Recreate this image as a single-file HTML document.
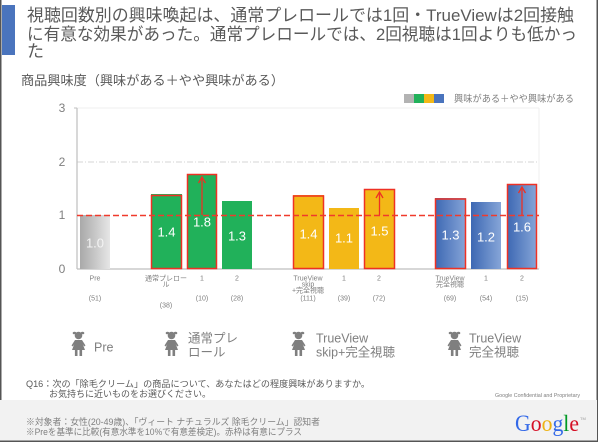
<!DOCTYPE html>
<html><head><meta charset="utf-8"><style>
html,body{margin:0;padding:0;background:#fff;}
body{position:relative;width:600px;height:443px;overflow:hidden;}
svg{display:block;position:absolute;left:0;top:0;}
text{font-family:"Liberation Sans","Noto Sans CJK JP",sans-serif;}
.t3{position:absolute;left:27px;top:42px;font-family:"Liberation Sans","Noto Sans CJK JP",sans-serif;font-size:17px;line-height:20px;color:#595959;z-index:2;}
</style></head><body>
<svg width="600" height="443" viewBox="0 0 600 443" xmlns="http://www.w3.org/2000/svg">
<defs>
<linearGradient id="gg" x1="0" x2="1" y1="0" y2="0"><stop offset="0" stop-color="#a9a9a9"/><stop offset="1" stop-color="#e6e6e6"/></linearGradient>
<linearGradient id="bg" x1="0" x2="1" y1="0" y2="0"><stop offset="0" stop-color="#3d68b3"/><stop offset="1" stop-color="#86a5d8"/></linearGradient>
<g id="girl" fill="#7f7f7f">
<circle cx="0" cy="5.5" r="3.8"/>
<ellipse cx="-4" cy="3" rx="1.8" ry="1.3"/>
<ellipse cx="4" cy="3" rx="1.8" ry="1.3"/>
<polygon points="-3.5,10 3.5,10 7,15.5 5.6,16.5 4.2,14 6.5,20 -6.5,20 -4.2,14 -5.6,16.5 -7,15.5"/>
<rect x="-3.6" y="19.5" width="2.6" height="6.5"/>
<rect x="1" y="19.5" width="2.6" height="6.5"/>
</g>
</defs>

<!-- frame -->
<rect x="0" y="0" width="1.5" height="442" fill="#555"/>
<rect x="596.5" y="0" width="1.5" height="442" fill="#555"/>
<rect x="0" y="400" width="597" height="41" fill="#f2f2f2"/>
<rect x="0" y="440.5" width="598" height="1.5" fill="#555"/>
<rect x="2" y="5" width="13" height="50" fill="#4a74bd"/>

<!-- title -->
<text x="27" y="21" font-size="17" fill="#595959" textLength="547" lengthAdjust="spacingAndGlyphs">視聴回数別の興味喚起は、通常プレロールでは1回・TrueViewは2回接触</text>
<text x="27" y="40" font-size="17" fill="#595959" textLength="550" lengthAdjust="spacingAndGlyphs">に有意な効果があった。通常プレロールでは、2回視聴は1回よりも低かっ</text>
<text x="21" y="85" font-size="13" fill="#595959" textLength="263" lengthAdjust="spacingAndGlyphs">商品興味度（興味がある＋やや興味がある）</text>

<!-- legend -->
<rect x="404" y="94" width="10" height="9" fill="#b3b3b3"/>
<rect x="414" y="94" width="10" height="9" fill="#21b15a"/>
<rect x="424" y="94" width="10" height="9" fill="#f3b817"/>
<rect x="434" y="94" width="10" height="9" fill="#4a74bd"/>
<text x="454" y="102" font-size="9.5" fill="#7f7f7f" textLength="120" lengthAdjust="spacingAndGlyphs">興味がある＋やや興味がある</text>

<!-- plot frame/grid -->
<line x1="77" y1="108" x2="539" y2="108" stroke="#efefef" stroke-width="1"/>
<line x1="539" y1="108" x2="539" y2="269" stroke="#efefef" stroke-width="1"/>
<line x1="77" y1="162" x2="539" y2="162" stroke="#d4d4d4" stroke-width="1" stroke-dasharray="6,2,1,2"/>
<line x1="77" y1="108" x2="77" y2="269" stroke="#bfbfbf" stroke-width="1.2"/>
<line x1="74" y1="108" x2="77" y2="108" stroke="#bfbfbf"/>
<line x1="77" y1="269" x2="539" y2="269" stroke="#bfbfbf" stroke-width="1.2"/>

<g font-size="12" fill="#7f7f7f" text-anchor="middle">
<text x="62" y="112">3</text>
<text x="62" y="166">2</text>
<text x="62" y="219">1</text>
<text x="62" y="273">0</text>
</g>

<!-- bars -->
<rect x="80" y="215" width="30" height="54" fill="url(#gg)"/>
<rect x="151" y="194" width="31" height="75" fill="#21b15a"/>
<rect x="187" y="174" width="30" height="95" fill="#21b15a"/>
<rect x="222" y="201" width="30" height="68" fill="#21b15a"/>
<rect x="293" y="195" width="31" height="74" fill="#f3b817"/>
<rect x="329" y="208" width="30" height="61" fill="#f3b817"/>
<rect x="364" y="189" width="31" height="80" fill="#f3b817"/>
<rect x="435" y="198" width="31" height="71" fill="url(#bg)"/>
<rect x="471" y="202" width="30" height="67" fill="url(#bg)"/>
<rect x="507" y="184" width="30" height="85" fill="url(#bg)"/>

<!-- red borders -->
<g fill="none" stroke="#ee3124" stroke-width="1.5">
<rect x="151.5" y="195.5" width="30" height="73"/>
<rect x="187.5" y="174.5" width="29" height="94"/>
<rect x="293.5" y="196" width="30" height="72.5"/>
<rect x="364.5" y="189.5" width="30" height="79"/>
<rect x="435.5" y="199" width="30" height="69.5"/>
<rect x="507.5" y="184.5" width="29" height="84"/>
</g>

<!-- dashed baseline 1.0 -->
<line x1="77" y1="215.5" x2="539" y2="215.5" stroke="#f03a2c" stroke-width="1.4" stroke-dasharray="6,3"/>

<!-- arrows -->
<g fill="none" stroke="#ee3124" stroke-width="1.3">
<line x1="202" y1="215" x2="202" y2="177"/><polyline points="198.5,183 202,177 205.5,183"/>
<line x1="379.5" y1="215" x2="379.5" y2="192"/><polyline points="376,198 379.5,192 383,198"/>
<line x1="522" y1="215" x2="522" y2="187"/><polyline points="518.5,193 522,187 525.5,193"/>
</g>

<!-- bar labels -->
<g font-size="13" fill="#ffffff" text-anchor="middle">
<text x="95" y="247.5" fill="#f4f4f4">1.0</text>
<text x="166.5" y="236.5">1.4</text>
<text x="202" y="226.5">1.8</text>
<text x="237" y="240.5">1.3</text>
<text x="308.5" y="238.5">1.4</text>
<text x="344" y="242.5">1.1</text>
<text x="379.5" y="235.5">1.5</text>
<text x="450.5" y="239.5">1.3</text>
<text x="486" y="241.5">1.2</text>
<text x="522" y="231.5">1.6</text>
</g>

<!-- x labels -->
<g font-size="7" fill="#7f7f7f" text-anchor="middle">
<text x="95" y="280.5">Pre</text>
<text x="166" y="280.5">通常プレロー</text>
<text x="166" y="286.5">ル</text>
<text x="202" y="280.5">1</text>
<text x="237" y="280.5">2</text>
<text x="308" y="280.5">TrueView</text>
<text x="308" y="286.5">skip</text>
<text x="308" y="292.5">+完全視聴</text>
<text x="344" y="280.5">1</text>
<text x="379" y="280.5">2</text>
<text x="450" y="280.5">TrueView</text>
<text x="450" y="286.5">完全視聴</text>
<text x="486" y="280.5">1</text>
<text x="522" y="280.5">2</text>
<text x="95" y="300.5">(51)</text>
<text x="166" y="307.5">(38)</text>
<text x="202" y="300.5">(10)</text>
<text x="237" y="300.5">(28)</text>
<text x="308" y="300.5">(111)</text>
<text x="344" y="300.5">(39)</text>
<text x="379" y="300.5">(72)</text>
<text x="450" y="300.5">(69)</text>
<text x="486" y="300.5">(54)</text>
<text x="522" y="300.5">(15)</text>
</g>

<!-- icons -->
<use href="#girl" x="78.5" y="330"/>
<use href="#girl" x="171.5" y="330"/>
<use href="#girl" x="298.5" y="330"/>
<use href="#girl" x="454.5" y="330"/>
<g font-size="12.5" fill="#7f7f7f">
<text x="94" y="351.5">Pre</text>
<text x="188" y="342.5">通常プレ</text>
<text x="188" y="356.5">ロール</text>
<text x="316" y="342.5">TrueView</text>
<text x="316" y="356.5" textLength="79" lengthAdjust="spacingAndGlyphs">skip+完全視聴</text>
<text x="469" y="342.5">TrueView</text>
<text x="469" y="356.5">完全視聴</text>
</g>

<!-- footer -->
<g font-size="9" fill="#595959">
<text x="26" y="387" textLength="344" lengthAdjust="spacingAndGlyphs">Q16：次の「除毛クリーム」の商品について、あなたはどの程度興味がありますか。</text>
<text x="49" y="397">お気持ちに近いものをお選びください。</text>
</g>
<text x="495" y="397" font-size="5.5" fill="#7f7f7f" textLength="85" lengthAdjust="spacingAndGlyphs">Google Confidential and Proprietary</text>
<g font-size="9" fill="#7f7f7f">
<text x="26" y="425" textLength="294" lengthAdjust="spacingAndGlyphs">※対象者：女性(20-49歳)、「ヴィート ナチュラルズ 除毛クリーム」認知者</text>
<text x="26" y="435" textLength="276" lengthAdjust="spacingAndGlyphs">※Preを基準に比較(有意水準を10%で有意差検定)。赤枠は有意にプラス</text>
</g>
<text x="515" y="431" style="font-family:'Liberation Serif','DejaVu Serif',serif;font-size:23px;" textLength="64" lengthAdjust="spacingAndGlyphs"><tspan fill="#3369e8">G</tspan><tspan fill="#d50f25">o</tspan><tspan fill="#eeb211">o</tspan><tspan fill="#3369e8">g</tspan><tspan fill="#009925">l</tspan><tspan fill="#d50f25">e</tspan></text>
<text x="580" y="420" font-size="4" fill="#999">TM</text>
</svg>
<div class="t3">た</div>
</body></html>
